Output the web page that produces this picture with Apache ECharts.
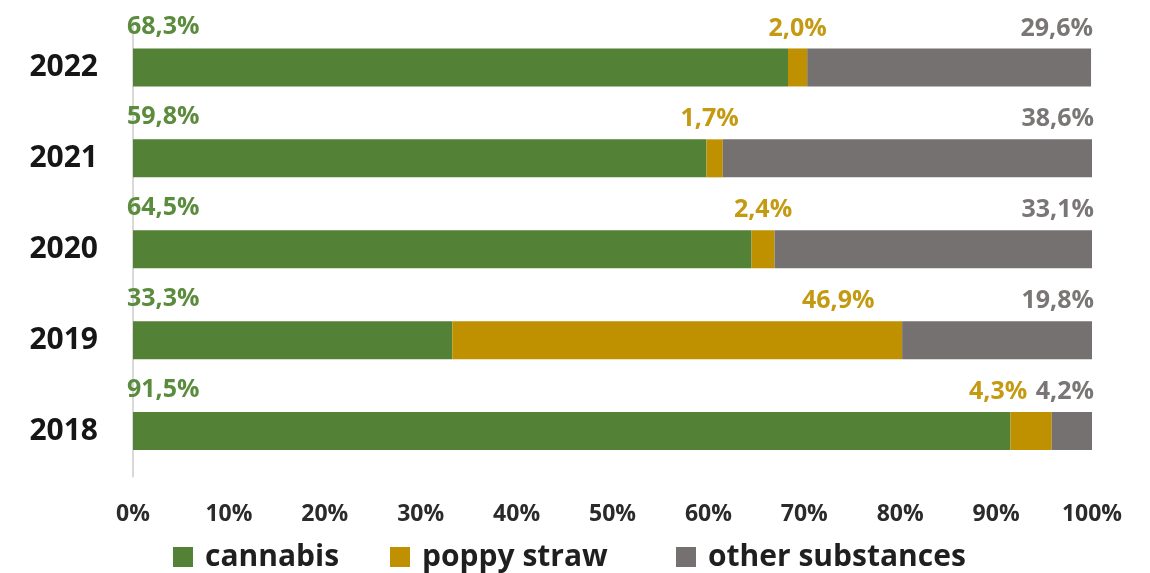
<!DOCTYPE html>
<html>
<head>
<meta charset="utf-8">
<script src="https://cdn.jsdelivr.net/npm/echarts@6/dist/echarts.min.js"></script>
<style>
  html, body { margin: 0; padding: 0; background: #ffffff; }
  #chart { width: 1150px; height: 573px; }
</style>
</head>
<body>
<div id="chart"></div>
<script>
// Share of seized substances by year (%)
const years = ['2018', '2019', '2020', '2021', '2022'];
const cannabis = [91.5, 33.3, 64.5, 59.8, 68.3];
const poppyStraw = [4.3, 46.9, 2.4, 1.7, 2.0];
const otherSubstances = [4.2, 19.8, 33.1, 38.6, 29.6];
const seriesNames = ['cannabis', 'poppy straw', 'other substances'];
const xTicks = { min: 0, max: 100, step: 10 };

// horizontal nudges for the poppy straw labels, so they don't collide
const poppyLabelShift = [-33, 161, 0, -5, 0];
// left edge of each legend entry
const legendLefts = [173, 390, 676];

const FONT = '"Open Sans", "Liberation Sans", Arial, sans-serif';
const colors = { cannabis: '#538135', poppy: '#BF9000', other: '#767171' };
const labelColors = { cannabis: '#5B8C3E', poppy: '#C49A12', other: '#7A7676' };

const fmt = v => v.toFixed(1).replace('.', ',') + '%';

const baseLabel = {
  show: true,
  fontFamily: FONT,
  fontWeight: 'bold',
  fontSize: 25,
  verticalAlign: 'middle',
  formatter: p => fmt(p.value)
};

const legends = seriesNames.map((name, i) => ({
  data: [name],
  left: legendLefts[i],
  top: 542,
  padding: 0,
  itemWidth: 20,
  itemHeight: 20,
  icon: 'rect',
  selectedMode: false,
  textStyle: {
    fontFamily: FONT, fontWeight: 'bold', fontSize: 30, color: '#1f1f1f',
    lineHeight: 22, padding: [0, 0, 0, 7]
  }
}));

const chart = echarts.init(document.getElementById('chart'), null, { renderer: 'canvas' });

chart.setOption({
  animation: false,
  backgroundColor: '#ffffff',
  grid: { left: 133, right: 58, top: 22, height: 454.5, containLabel: false },
  legend: legends,
  xAxis: {
    type: 'value',
    min: xTicks.min,
    max: xTicks.max,
    interval: xTicks.step,
    axisLine: { show: false },
    axisTick: { show: false },
    splitLine: { show: false },
    axisLabel: {
      formatter: '{value}%',
      margin: 26,
      fontFamily: FONT,
      fontWeight: 'bold',
      fontSize: 23,
      color: '#2b2b2b'
    }
  },
  yAxis: {
    type: 'category',
    data: years,
    axisLine: { show: true, lineStyle: { color: '#D9D9D9', width: 2 } },
    axisTick: { show: false },
    axisLabel: {
      margin: 35,
      fontFamily: FONT,
      fontWeight: 'bold',
      fontSize: 30,
      color: '#161616'
    }
  },
  series: [
    {
      name: seriesNames[0],
      type: 'bar',
      stack: 'share',
      barWidth: 38,
      itemStyle: { color: colors.cannabis },
      label: Object.assign({}, baseLabel, {
        color: labelColors.cannabis,
        position: [-6, -22],
        align: 'left'
      }),
      data: cannabis
    },
    {
      name: seriesNames[1],
      type: 'bar',
      stack: 'share',
      barWidth: 38,
      itemStyle: { color: colors.poppy },
      label: Object.assign({}, baseLabel, {
        color: labelColors.poppy,
        position: ['50%', -20],
        align: 'center'
      }),
      data: poppyStraw.map((v, i) => ({
        value: v,
        label: { offset: [poppyLabelShift[i], 0] }
      }))
    },
    {
      name: seriesNames[2],
      type: 'bar',
      stack: 'share',
      barWidth: 38,
      itemStyle: { color: colors.other },
      label: Object.assign({}, baseLabel, {
        color: labelColors.other,
        position: ['100%', -20],
        align: 'right',
        offset: [2, 0]
      }),
      data: otherSubstances
    }
  ]
});
</script>
</body>
</html>
